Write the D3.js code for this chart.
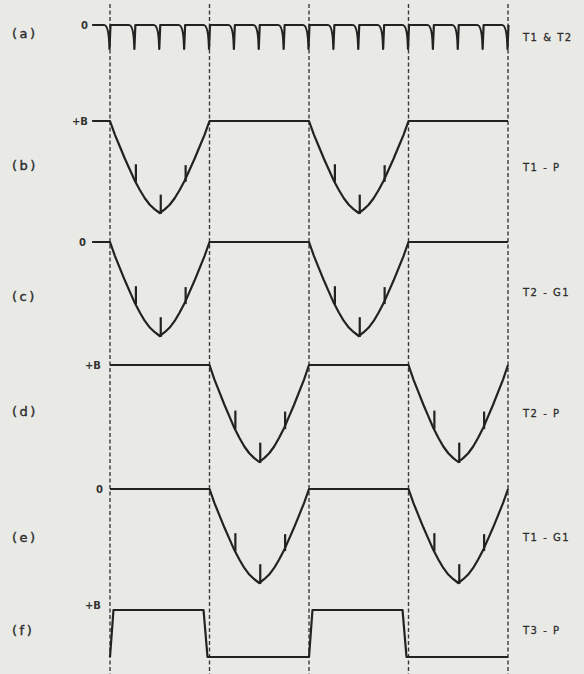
<!DOCTYPE html>
<html>
<head>
<meta charset="utf-8">
<script src="https://cdn.jsdelivr.net/npm/d3@7"></script>
<style>
html, body { margin: 0; padding: 0; background: #e9e9e5; }
svg { display: block; }
</style>
</head>
<body>
<div id="chart"></div>
<script>
// row names, level marks and electrode names
var traceIds = ["(a)", "(b)", "(c)", "(d)", "(e)", "(f)"];
var levelLabels = ["0", "+B", "0", "+B", "0", "+B"];
var traceNames = ["T1 & T2", "T1 - P", "T2 - G1", "T2 - P", "T1 - G1", "T3 - P"];

// time is counted in half-cycles, dashed markers at each switch-over
var markerTimes = [0, 1, 2, 3, 4];
// where each trace starts (the first three have a short lead-in left of the first marker)
var traceStart = [-0.18, -0.18, -0.18, 0, 0, 0];

// (a) trigger pulses
var pulseTimes = [0, 0.25, 0.5, 0.75, 1, 1.25, 1.5, 1.75, 2, 2.25, 2.5, 2.75, 3, 3.25, 3.5, 3.75, 4];
var pulseDepth = -1;

// dip: phase in the half-cycle vs fraction of full swing
var dipPhase = [0, 0.05, 0.1, 0.15, 0.2, 0.25, 0.3, 0.35, 0.4, 0.45, 0.5,
                0.55, 0.6, 0.65, 0.7, 0.75, 0.8, 0.85, 0.9, 0.95, 1];
var dipLevel = [0, -0.15, -0.28, -0.41, -0.53, -0.65, -0.75, -0.84, -0.91, -0.96, -1,
                -0.96, -0.91, -0.84, -0.75, -0.65, -0.53, -0.41, -0.28, -0.15, 0];

// half-cycles in which each trace dips
var dipsB = [0, 2];
var dipsC = [0, 2];
var dipsD = [1, 3];
var dipsE = [1, 3];

// pulse ticks riding on the dips
var tickPhases = [0.25, 0.5, 0.75];
var tickLift = [0.18, 0.2, 0.17];

// (f) multivibrator output
var squareT = [0, 0.035, 0.94, 0.98, 2, 2.035, 2.94, 2.98, 4];
var squareV = [0, 1, 1, 0, 0, 1, 1, 0, 0];

var W = 584, H = 674;
var ink = "#222";

var svg = d3.select("#chart").append("svg")
  .attr("width", W)
  .attr("height", H);

svg.append("rect").attr("width", W).attr("height", H).attr("fill", "#e9e9e5");

var x = d3.scaleLinear().domain([0, 4]).range([110, 508]);

// vertical placing of each row: top level and bottom of the swing
var rowTop = [25, 121, 242, 365, 489, 610];
var rowBottom = [49, 213, 336, 462, 583, 657];
var y = rowTop.map(function(t, i) {
  return d3.scaleLinear().domain([-1, 0]).range([rowBottom[i], t]);
});
var yF = d3.scaleLinear().domain([0, 1]).range([rowBottom[5], rowTop[5]]);

// dashed markers
svg.selectAll(".marker")
  .data(markerTimes)
  .enter().append("line")
  .attr("class", "marker")
  .attr("x1", function(d) { return x(d); })
  .attr("x2", function(d) { return x(d); })
  .attr("y1", 4)
  .attr("y2", H)
  .attr("stroke", "#3a3a3a")
  .attr("stroke-width", 1.4)
  .attr("stroke-dasharray", "4,2.5");

// (a) pulse train
var pa = d3.path();
pa.moveTo(x(traceStart[0]), y[0](0));
pulseTimes.forEach(function(t) {
  var xs = x(t);
  pa.lineTo(xs - 6, y[0](0));
  pa.quadraticCurveTo(xs - 1, y[0](0), xs - 0.5, y[0](pulseDepth));
  pa.lineTo(xs + 0.5, y[0](0));
});
svg.append("path")
  .attr("d", pa.toString())
  .attr("fill", "none")
  .attr("stroke", ink)
  .attr("stroke-width", 2.2)
  .attr("stroke-linejoin", "round");

// (b)-(e) dip traces
function dipTrace(start, dips) {
  var pts = [[start, 0]];
  dips.forEach(function(k) {
    dipPhase.forEach(function(ph, j) { pts.push([k + ph, dipLevel[j]]); });
  });
  pts.push([4, 0]);
  return pts;
}

var dipSets = [dipsB, dipsC, dipsD, dipsE];
dipSets.forEach(function(dips, i) {
  var row = i + 1;
  var line = d3.line()
    .x(function(d) { return x(d[0]); })
    .y(function(d) { return y[row](d[1]); });
  svg.append("path")
    .attr("d", line(dipTrace(traceStart[row], dips)))
    .attr("fill", "none")
    .attr("stroke", ink)
    .attr("stroke-width", 2.2)
    .attr("stroke-linejoin", "round");

  dips.forEach(function(k) {
    tickPhases.forEach(function(ph, j) {
      var lv = dipLevel[dipPhase.indexOf(ph)];
      svg.append("line")
        .attr("x1", x(k + ph) + 1).attr("x2", x(k + ph) + 1)
        .attr("y1", y[row](lv) + 1)
        .attr("y2", y[row](lv + tickLift[j]))
        .attr("stroke", ink)
        .attr("stroke-width", 2.2);
    });
  });
});

// (f) square wave
var sq = d3.line()
  .x(function(d, i) { return x(squareT[i]); })
  .y(function(d) { return yF(d); });
svg.append("path")
  .attr("d", sq(squareV))
  .attr("fill", "none")
  .attr("stroke", ink)
  .attr("stroke-width", 2.2)
  .attr("stroke-linejoin", "round");

// labels
var idY = [33, 165, 296, 411, 537, 630];
svg.selectAll(".id")
  .data(traceIds)
  .enter().append("text")
  .attr("x", 12)
  .attr("y", function(d, i) { return idY[i]; })
  .attr("dy", "0.35em")
  .attr("font-family", "DejaVu Sans, sans-serif")
  .attr("font-size", 13)
  .attr("letter-spacing", 2.5)
  .attr("fill", "#2e2e2e")
  .attr("stroke", "#2e2e2e")
  .attr("stroke-width", 0.4)
  .text(function(d) { return d; });

var levelEndX = [88, 88, 86, 101, 103, 101];
var levelY = [25, 121, 242, 365, 489, 605];
svg.selectAll(".level")
  .data(levelLabels)
  .enter().append("text")
  .attr("x", function(d, i) { return levelEndX[i]; })
  .attr("y", function(d, i) { return levelY[i]; })
  .attr("dy", "0.35em")
  .attr("text-anchor", "end")
  .attr("font-family", "DejaVu Sans, sans-serif")
  .attr("font-size", 10)
  .attr("font-weight", "bold")
  .attr("fill", "#333")
  .text(function(d) { return d; });

var nameY = [37, 167, 292, 413, 537, 630];
svg.selectAll(".name")
  .data(traceNames)
  .enter().append("text")
  .attr("x", 523)
  .attr("y", function(d, i) { return nameY[i]; })
  .attr("dy", "0.35em")
  .attr("font-family", "DejaVu Sans, sans-serif")
  .attr("font-size", 10)
  .attr("letter-spacing", 1.5)
  .attr("fill", "#2e2e2e")
  .attr("stroke", "#2e2e2e")
  .attr("stroke-width", 0.3)
  .text(function(d) { return d; });
</script>
</body>
</html>
